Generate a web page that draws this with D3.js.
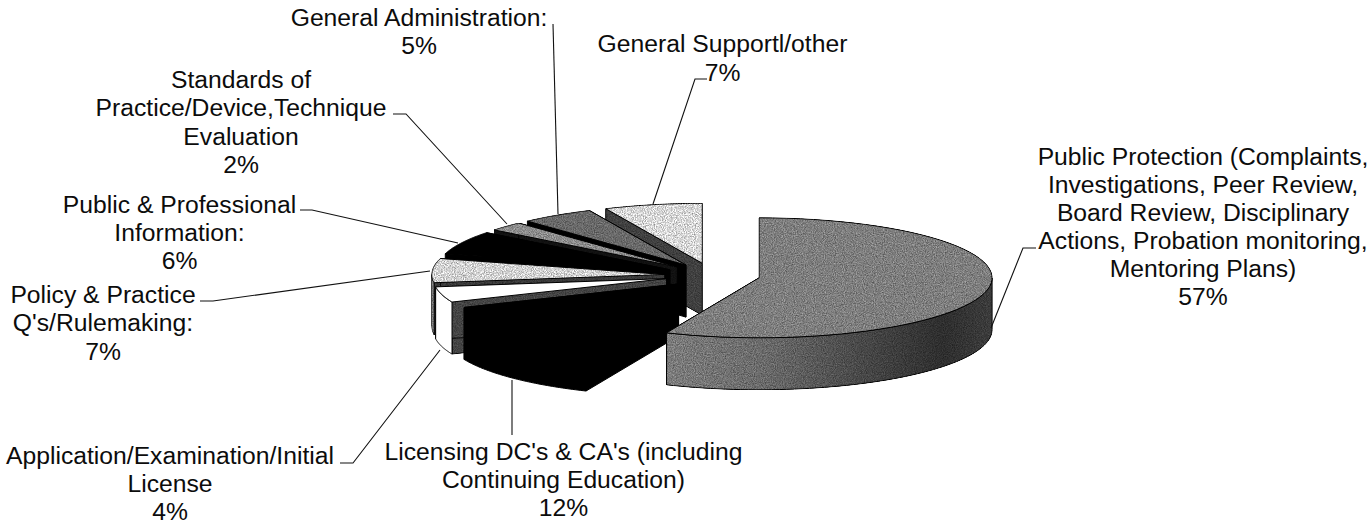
<!DOCTYPE html>
<html>
<head>
<meta charset="utf-8">
<script src="https://cdn.jsdelivr.net/npm/d3@7/dist/d3.min.js"></script>
<style>
html,body{margin:0;padding:0;background:#fff;overflow:hidden}
text{font-family:"Liberation Sans",Arial,sans-serif;font-size:24.7px;fill:#0c0c0c;text-anchor:middle}
</style>
</head>
<body>
<svg id="c" width="1370" height="522"></svg>
<script>
// ---- data ----
const sliceNames = ["Public Protection","Licensing","Application","Policy","Public Info","Standards","General Admin","General Support"];
const sliceValues = [56.5,12.1,4.2,6.5,6.3,2.49,5.11,6.8];
const labelLines = [
  ["Public Protection (Complaints,","Investigations, Peer Review,","Board Review, Disciplinary","Actions, Probation monitoring,","Mentoring Plans)","57%"],
  ["Licensing DC's & CA's (including","Continuing Education)","12%"],
  ["Application/Examination/Initial","License","4%"],
  ["Policy & Practice","Q's/Rulemaking:","7%"],
  ["Public & Professional","Information:","6%"],
  ["Standards of","Practice/Device,Technique","Evaluation","2%"],
  ["General Administration:","5%"],
  ["General Supportl/other","7%"]
];
// ---- style ----
const topFills  = ["#7e7e7e","#000000","#ffffff","#d2d2d2","#000000","#8c8c8c","#696969","#d8d8d8"];
const edgeFills = ["#6a6a6a","#000000","#444444","#3a3a3a","#000000","#111111","#000000","#404040"];
const rimFills  = ["url(#rimGrad)","#000000","#ffffff","#a8a8a8","#000000","#333333","#222222","#555555"];
// ---- layout ----
const W = 1370, H = 522;
const cx = 712.4, cy = 275.3, rx = 233, ry = 60, depth = 52, explode = 47.7;
const labelX = [1203,563.5,170,103,179.5,241,419,722.5];
const labelY = [165,459.5,464,302.5,212.5,87.5,25.5,51.5];
const labelStep = [28,28,28,28.5,28,28.5,28,29];
const leaders = [
  [[1036,248],[1023,248],[991,328]],
  [[512,380],[512,435]],
  [[340,463],[353,463],[440,350]],
  [[200,301],[213,301],[430,271]],
  [[300,210],[312,210],[458,243]],
  [[393,114],[406,114],[507,224]],
  [[553,24],[558,214]],
  [[707,79],[695,79],[653,204]]
];
const svg = d3.select("#c");
const defs = svg.append("defs");
const grad = defs.append("linearGradient").attr("id","rimGrad").attr("gradientUnits","userSpaceOnUse")
  .attr("x1",667).attr("x2",992).attr("y1",0).attr("y2",0);
[[0,"#7c7c7c"],[0.3,"#6a6a6a"],[0.6,"#484848"],[0.85,"#2e2e2e"],[1,"#3c3c3c"]]
  .forEach(s=>grad.append("stop").attr("offset",s[0]).attr("stop-color",s[1]));
const f = defs.append("filter").attr("id","grain").attr("x","0").attr("y","0").attr("width","1").attr("height","1")
  .attr("color-interpolation-filters","sRGB");
f.append("feTurbulence").attr("type","fractalNoise").attr("baseFrequency",0.9).attr("numOctaves",2).attr("seed",4).attr("result","n");
f.append("feColorMatrix").attr("in","n").attr("type","matrix")
  .attr("values","1 0 0 0 0  1 0 0 0 0  1 0 0 0 0  0 0 0 0 1").attr("result","g");
f.append("feComposite").attr("in","SourceGraphic").attr("in2","g").attr("operator","arithmetic")
  .attr("k1",1.0).attr("k2",0.5).attr("k3",0).attr("k4",0).attr("result","m");
f.append("feComposite").attr("in","m").attr("in2","SourceAlpha").attr("operator","in");

const arcs = d3.pie().sort(null).value(d=>d)(sliceValues);
const line = d3.line();
function drawSlice(arc){
  const i = arc.index;
  const mid = (arc.startAngle+arc.endAngle)/2;
  const ax = cx+explode*Math.sin(mid), ay = cy-explode*(ry/rx)*Math.cos(mid);
  const P = (a,dz=0)=>[ax+rx*Math.sin(a), ay-ry*Math.cos(a)+dz];
  const sample = (a0,a1)=>d3.range(0,61).map(k=>a0+(a1-a0)*k/60);
  const g = svg.append("g").attr("class","slice").attr("stroke","#000").attr("stroke-width",1).attr("stroke-linejoin","round");
  const fx = c => (c==="#000000"||c==="#ffffff")?null:"url(#grain)";
  // radial walls
  [arc.startAngle,arc.endAngle].forEach(a=>{
    g.append("path").attr("d",line([[ax,ay],P(a),P(a,depth),[ax,ay+depth]])+"Z")
      .attr("fill",edgeFills[i]).attr("filter",fx(edgeFills[i]));
  });
  // outer wall (front half only)
  const a0 = Math.max(arc.startAngle,Math.PI/2), a1 = Math.min(arc.endAngle,3*Math.PI/2);
  if(a1>a0){
    const s = sample(a0,a1);
    g.append("path").attr("d",line(s.map(a=>P(a)).concat(s.slice().reverse().map(a=>P(a,depth))))+"Z")
      .attr("fill",rimFills[i]).attr("filter",fx(rimFills[i]));
  }
  // top face
  g.append("path").attr("d",line([[ax,ay]].concat(sample(arc.startAngle,arc.endAngle).map(a=>P(a))))+"Z")
    .attr("fill",topFills[i]).attr("filter",fx(topFills[i]));
}
arcs.slice().reverse().forEach(drawSlice);

svg.append("g").selectAll("path").data(leaders).join("path")
  .attr("d",d=>line(d)).attr("fill","none").attr("stroke","#111").attr("stroke-width",1.1);

labelLines.forEach((lines,i)=>{
  svg.append("text").selectAll("tspan").data(lines).join("tspan")
    .attr("x",labelX[i]).attr("y",(d,k)=>labelY[i]+k*labelStep[i]).text(d=>d);
});
</script>
</body>
</html>
